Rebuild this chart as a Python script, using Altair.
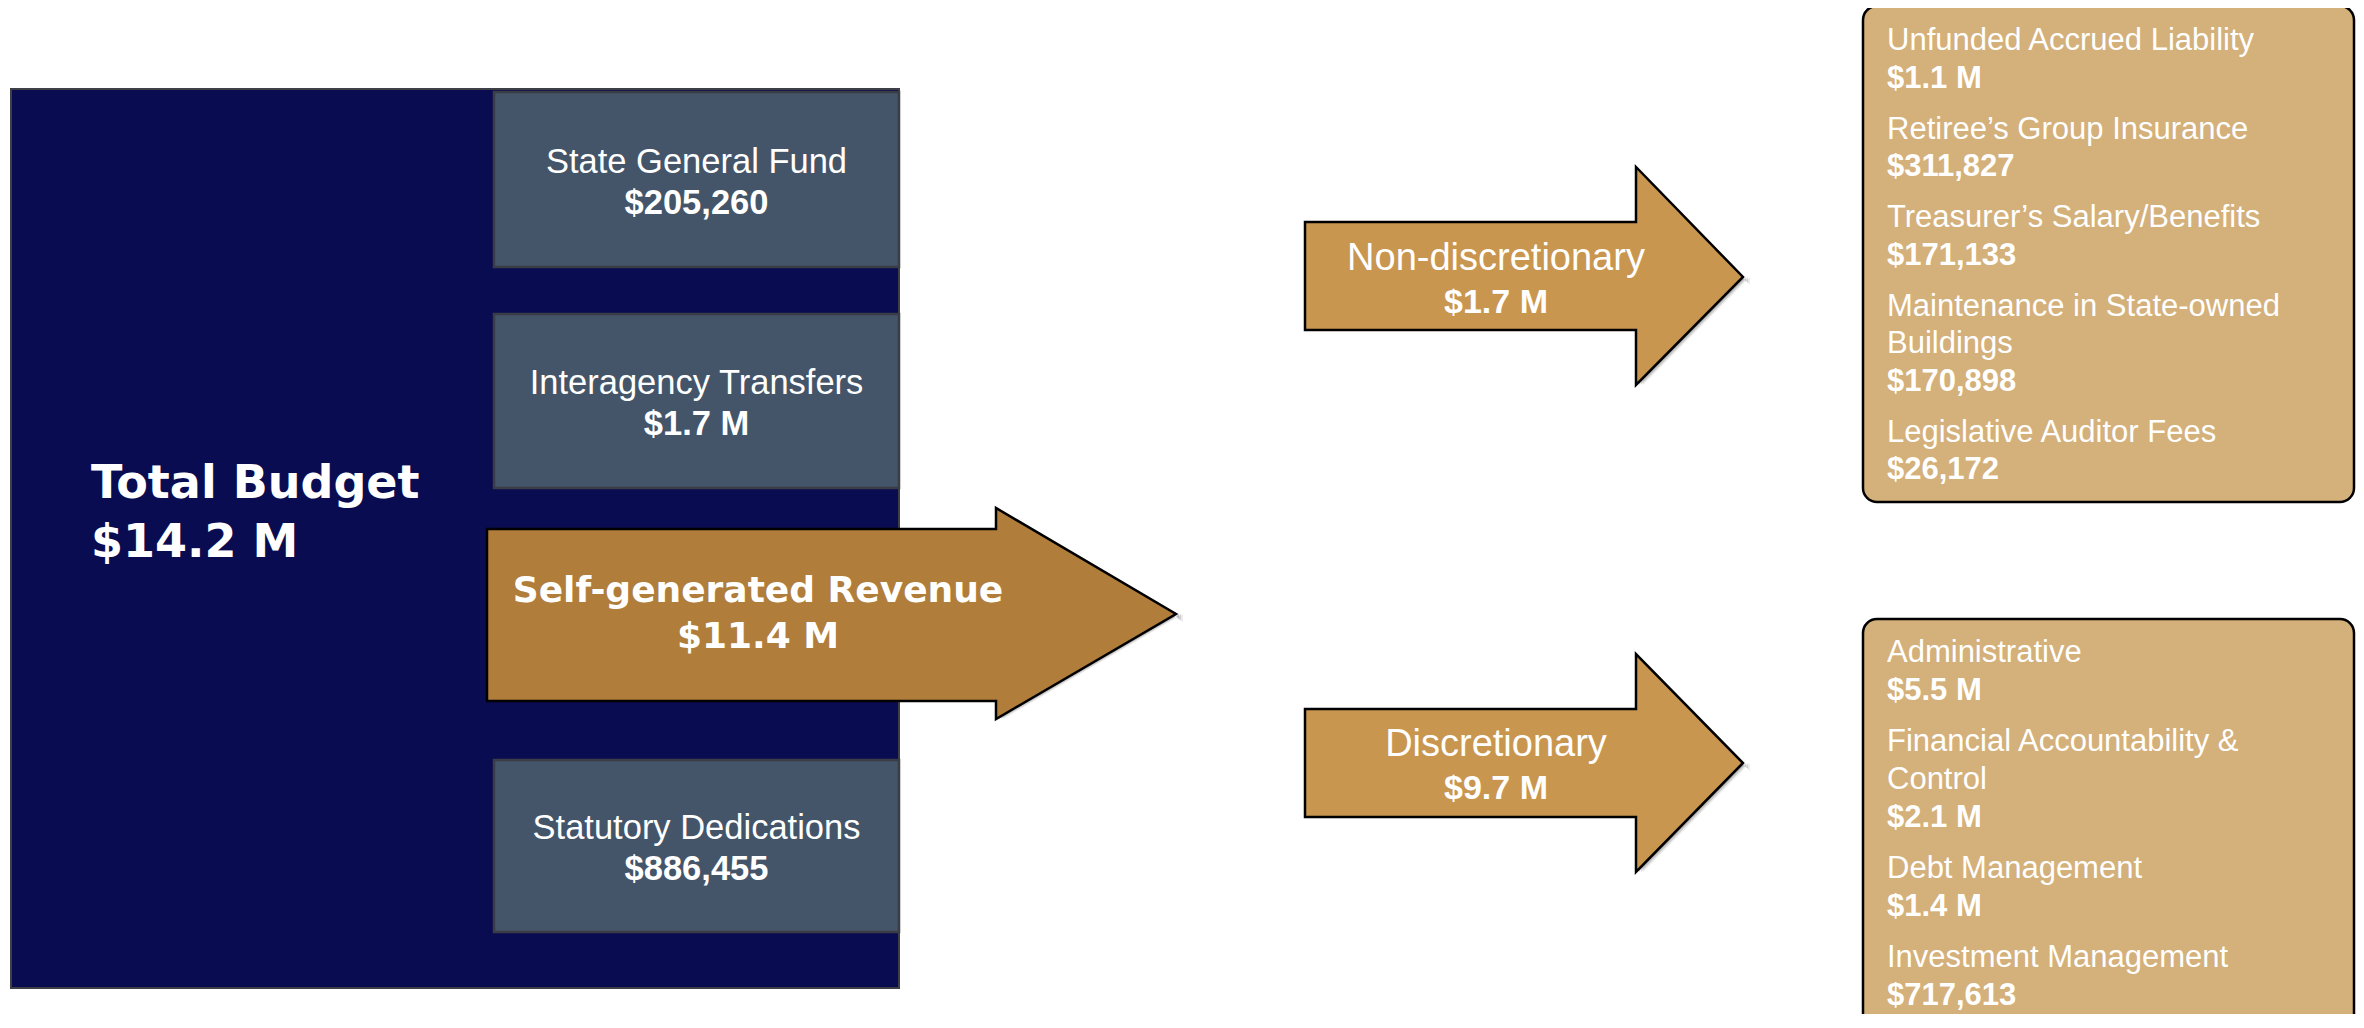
import textwrap
import altair as alt
import pandas as pd

# ---------------- data ----------------
total_label = "Total Budget"
total_value = "$14.2 M"

source_names = ["State General Fund", "Interagency Transfers",
                "Self-generated Revenue", "Statutory Dedications"]
source_values = ["$205,260", "$1.7 M", "$11.4 M", "$886,455"]

split_names = ["Non-discretionary", "Discretionary"]
split_values = ["$1.7 M", "$9.7 M"]

nondisc_names = ["Unfunded Accrued Liability", "Retiree\u2019s Group Insurance",
                 "Treasurer\u2019s Salary/Benefits",
                 "Maintenance in State-owned Buildings", "Legislative Auditor Fees"]
nondisc_values = ["$1.1 M", "$311,827", "$171,133", "$170,898", "$26,172"]

disc_names = ["Administrative", "Financial Accountability & Control",
              "Debt Management", "Investment Management"]
disc_values = ["$5.5 M", "$2.1 M", "$1.4 M", "$717,613"]

# ---------------- layout (page pixels) ----------------
W, H = 2348, 1006
X0, Y0 = 8, 8

NAVY = "#0a0c52"
SLATE = "#44556a"
BROWN_DARK = "#b07d3a"
BROWN = "#c9964f"
TAN = "#d4b07a"

xs = alt.Scale(domain=[X0, X0 + W], nice=False, zero=False)
ys = alt.Scale(domain=[Y0, Y0 + H], nice=False, zero=False, reverse=True)
X = alt.X("x:Q", scale=xs, axis=None)
Y = alt.Y("y:Q", scale=ys, axis=None)

total_box = dict(x=11, x2=899, y=89, y2=988)
gray_boxes = {0: (92, 267), 1: (314, 488), 3: (760, 932)}
gray_x = (494, 899)

# arrows: body left, head x, tip x, body top, body bottom, head top, head bottom, mid
arrow_geo = {
    "self": (487, 996, 1176, 529, 701, 508, 719, 614, BROWN_DARK),
    "nondisc": (1305, 1636, 1743, 222, 330, 167, 385, 277, BROWN),
    "disc": (1305, 1636, 1743, 709, 817, 654, 872, 763, BROWN),
}
list_boxes = [dict(x=1863, x2=2354, y=6, y2=502), dict(x=1863, x2=2354, y=619, y2=1040)]


def rect_layer(df, **kw):
    return alt.Chart(df).mark_rect(**kw).encode(x=X, x2="x2:Q", y=Y, y2="y2:Q")


def text_layer(df, **kw):
    base = dict(color="white", baseline="alphabetic", font="Liberation Sans")
    base.update(kw)
    return alt.Chart(df).mark_text(**base).encode(x=X, y=Y, text="text:N")


layers = []

# total budget block
layers.append(rect_layer(pd.DataFrame([total_box]), fill=NAVY, stroke="#3f3f46", strokeWidth=2))

# source boxes (gray)
gb = pd.DataFrame([dict(x=gray_x[0], x2=gray_x[1], y=t, y2=b) for t, b in gray_boxes.values()])
layers.append(rect_layer(gb, fill=SLATE, stroke="#3a3d44", strokeWidth=2.5))

# arrows as areas (top edge y, bottom edge y2 along x)
arrow_rows = []
for name, (xl, xh, xt, bt, bb, ht, hb, mid, col) in arrow_geo.items():
    pts = [(xl, bt, bb), (xh, bt, bb), (xh + 0.01, ht, hb), (xt, mid, mid)]
    for px, py, py2 in pts:
        arrow_rows.append(dict(arrow=name, x=px, y=py, y2=py2, fill=col))
arrows = pd.DataFrame(arrow_rows)


def arrow_layer(**kw):
    return alt.Chart(arrows).mark_area(**kw).encode(x=X, y=Y, y2="y2:Q", detail="arrow:N")


lb = pd.DataFrame(list_boxes)
# soft drop shadows
for off, op in [((7, 8), 0.10), ((5, 6), 0.18), ((3, 4), 0.22)]:
    layers.append(arrow_layer(fill="#444444", opacity=op, xOffset=off[0], yOffset=off[1]))
    layers.append(rect_layer(lb, fill="#444444", opacity=op, cornerRadius=14,
                             xOffset=off[0], yOffset=off[1]))
layers.append(
    alt.Chart(arrows).mark_area(stroke="black", strokeWidth=2.5, strokeJoin="miter").encode(
        x=X, y=Y, y2="y2:Q", detail="arrow:N", fill=alt.Fill("fill:N", scale=None)))

# list boxes
layers.append(rect_layer(lb, fill=TAN, stroke="black", strokeWidth=2.5, cornerRadius=14))

# ---- texts ----
layers.append(text_layer(pd.DataFrame([dict(x=91, y=498, text=total_label),
                                       dict(x=91, y=557, text=total_value)]),
                         font="DejaVu Sans", fontWeight="bold", fontSize=46, align="left"))

g_lab, g_val = [], []
for idx, (t, b) in gray_boxes.items():
    c = (t + b) / 2
    cx = (gray_x[0] + gray_x[1]) / 2
    g_lab.append(dict(x=cx, y=c - 7, text=source_names[idx]))
    g_val.append(dict(x=cx, y=c + 34, text=source_values[idx]))
layers.append(text_layer(pd.DataFrame(g_lab), fontSize=34.5, align="center"))
layers.append(text_layer(pd.DataFrame(g_val), fontSize=34.5, fontWeight="bold", align="center"))

layers.append(text_layer(pd.DataFrame([dict(x=758, y=602, text=source_names[2]),
                                       dict(x=758, y=648, text=source_values[2])]),
                         font="DejaVu Sans", fontWeight="bold", fontSize=36, align="center"))

s_lab, s_val = [], []
for k, name in enumerate(["nondisc", "disc"]):
    mid = arrow_geo[name][7]
    s_lab.append(dict(x=1496, y=mid - 7, text=split_names[k]))
    s_val.append(dict(x=1496, y=mid + 36, text=split_values[k]))
layers.append(text_layer(pd.DataFrame(s_lab), fontSize=38, align="center"))
layers.append(text_layer(pd.DataFrame(s_val), fontSize=34, fontWeight="bold", align="center"))


def list_rows(names, values, first, step, gap, x):
    labs, vals = [], []
    y = first
    for n, v in zip(names, values):
        for line in textwrap.wrap(n, 27):
            labs.append(dict(x=x, y=y, text=line))
            y += step
        vals.append(dict(x=x, y=y, text=v))
        y += gap
    return labs, vals


l1, v1 = list_rows(nondisc_names, nondisc_values, 50, 37.5, 51, 1887)
l2, v2 = list_rows(disc_names, disc_values, 662, 38, 51, 1887)
layers.append(text_layer(pd.DataFrame(l1 + l2), fontSize=31, align="left"))
layers.append(text_layer(pd.DataFrame(v1 + v2), fontSize=31, fontWeight="bold", align="left"))

chart = alt.layer(*layers).properties(
    width=W, height=H, padding=0, background="white",
    autosize=alt.AutoSizeParams(type="none"),
).configure_view(stroke=None)

chart.save("out.html", embed_options={"renderer": "svg", "actions": False})
